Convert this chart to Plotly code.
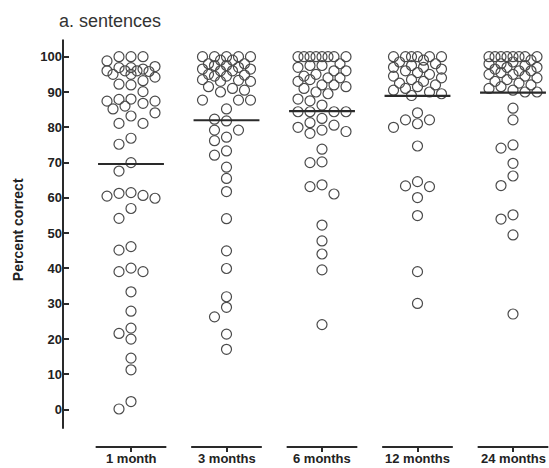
import math
import plotly.graph_objects as go

categories = ["1 month", "3 months", "6 months", "12 months", "24 months"]

m1 = [100, 100, 100, 98.8, 97.2, 96.9, 96.9, 96.0, 96.0, 96.0, 96.5, 95.8, 95.0, 95.0,
      94.2, 93.2, 92.0, 92.2, 90.1, 88.0, 87.9, 87.4, 86.8, 87.4, 85.2, 86.0, 84.1, 83.2,
      81.1, 81.1, 76.9, 75.2, 70.0, 67.6, 61.5, 60.7, 59.9, 60.5, 61.3, 57.0, 54.2, 46.2,
      45.2, 40.1, 39.1, 39.1, 33.4, 27.9, 23.1, 21.6, 20.0, 14.6, 11.3, 2.3, 0.2]
m3 = [100, 100, 100, 100, 100, 99, 99, 98, 98, 97.5, 97.5, 97, 96.5, 96.5, 96, 96,
      95, 94.8, 94.5, 94.5, 93.5, 93.3, 93, 93, 91.5, 91, 90.5, 90, 87.7, 87.7, 87.7,
      85.2, 82.3, 81.8, 79.2, 79.2, 76.2, 77.2, 73.3, 72.1, 68.7, 65.5, 61.8, 54.1,
      45.0, 40.0, 32.0, 29.0, 26.3, 21.4, 17.1]
m6 = [100, 100, 100, 100, 100, 100, 100, 100, 98, 97.5, 97.5, 97, 96, 96, 95, 94.5,
      94, 94, 93.5, 93, 92, 92, 91.5, 91, 90, 89.5, 88, 87.5, 86.3, 84.4, 84.4, 84.4,
      84.4, 82.5, 81.3, 80.6, 79.2, 78.3, 78.8, 80.0, 73.8, 70.0, 70.2, 63.2, 61.1,
      63.7, 52.3, 47.8, 44.1, 39.6, 24.1]
m12 = [100, 100, 100, 100, 100, 100, 99, 98.5, 98, 97.5, 97, 97, 96.5, 96, 95.5, 95,
       94.5, 94, 93.5, 93, 92.5, 92, 91.5, 91, 90.5, 90, 89.5, 89, 84.1, 82.1, 80.0,
       81.0, 82.1, 74.7, 63.2, 64.6, 63.4, 60.1, 55.0, 39.1, 30.1]
m24 = [100, 100, 100, 100, 100, 100, 100, 100, 99, 98.5, 98, 98, 97.5, 97, 97, 96.5,
       96, 96, 95.5, 95, 95, 94.5, 94, 93.5, 93, 92.5, 92, 91.5, 91, 90.5, 90, 90,
       85.4, 82.1, 75.0, 74.1, 69.8, 66.2, 63.5, 54.0, 55.2, 49.5, 27.1]
series = [m1, m3, m6, m12, m24]
means = [69.6, 82.0, 84.6, 88.9, 89.8]

yticks = list(range(0, 101, 10))

# geometry (pixels) used only for the swarm layout
W, H = 549, 468
ML, MR, MT, MB = 63, 0, 36, 21
XR = [-0.712, 4.377]
YR = [-10.57, 105.86]
PW, PH = W - ML - MR, H - MT - MB
pxx = PW / (XR[1] - XR[0])
pxy = PH / (YR[1] - YR[0])


def swarm(vals, diam=10.5):
    cands = [0, -12, 12, -24, 24, -6, 6, -18, 18]
    order = sorted(range(len(vals)), key=lambda i: -vals[i])
    placed = []
    offs = [0.0] * len(vals)
    for i in order:
        y = vals[i] * pxy
        best, bestd = 0, -1
        for c in cands:
            d = min((math.hypot(c - px, y - py) for px, py in placed), default=1e9)
            if d >= diam:
                best = c
                break
            if d > bestd:
                best, bestd = c, d
        placed.append((best, y))
        offs[i] = best / pxx
    return offs


fig = go.Figure()
for gi, vals in enumerate(series):
    offs = swarm(vals)
    fig.add_trace(go.Scatter(
        x=[gi + o for o in offs], y=vals, mode="markers",
        marker=dict(symbol="circle-open", size=10, color="#4a4a4a",
                    line=dict(width=1.2, color="#4a4a4a")),
        hoverinfo="y", showlegend=False))
    fig.add_trace(go.Scatter(
        x=[gi - 0.345, gi + 0.345], y=[means[gi], means[gi]], mode="lines",
        line=dict(color="#2a2a2a", width=2.2), showlegend=False, hoverinfo="skip"))

shapes = [dict(type="line", xref="paper", yref="y", x0=0, x1=0, y0=-5.4, y1=104.9,
               line=dict(color="#2a2a2a", width=2))]
for gi in range(len(categories)):
    shapes.append(dict(type="line", xref="x", yref="paper", x0=gi - 0.37, x1=gi + 0.37,
                       y0=0, y1=0, line=dict(color="#2a2a2a", width=2)))

annotations = [
    dict(text="a. sentences", xref="paper", yref="paper", x=-6.0 / PW, y=(15.0 + PH) / PH,
         xanchor="left", yanchor="middle", showarrow=False,
         font=dict(size=18, color="#333")),
    dict(text="<b>Percent correct</b>", xref="paper", yref="paper", x=-0.0926, y=0.53,
         xanchor="center", yanchor="middle", textangle=-90, showarrow=False,
         font=dict(size=14, color="#222")),
]
for gi, c in enumerate(categories):
    annotations.append(dict(text="<b>%s</b>" % c, xref="x", yref="paper", x=gi,
                            y=(-20.5 / PH), xanchor="center", yanchor="bottom",
                            showarrow=False, font=dict(size=13, color="#222")))

fig.update_layout(
    width=W, height=H, margin=dict(l=ML, r=MR, t=MT, b=MB),
    paper_bgcolor="white", plot_bgcolor="white",
    font=dict(family="Arial, Liberation Sans, sans-serif", color="#222"),
    shapes=shapes,
    xaxis=dict(range=XR, tickvals=list(range(len(categories))), showticklabels=False,
               showgrid=False, zeroline=False, showline=False,
               ticks="outside", ticklen=4, tickwidth=2, tickcolor="#2a2a2a"),
    yaxis=dict(range=YR, tickvals=yticks, ticktext=[str(t) for t in yticks],
               showgrid=False, zeroline=False, showline=False,
               ticks="inside", ticklen=6, tickwidth=2, tickcolor="#2a2a2a",
               tickfont=dict(size=13, weight=700, color="#222")),
    annotations=annotations,
)
fig.write_html("out.html", config={"displayModeBar": False},
               post_script="document.body.style.margin='0';document.body.style.padding='0';"
                           "document.body.style.overflow='hidden';")
